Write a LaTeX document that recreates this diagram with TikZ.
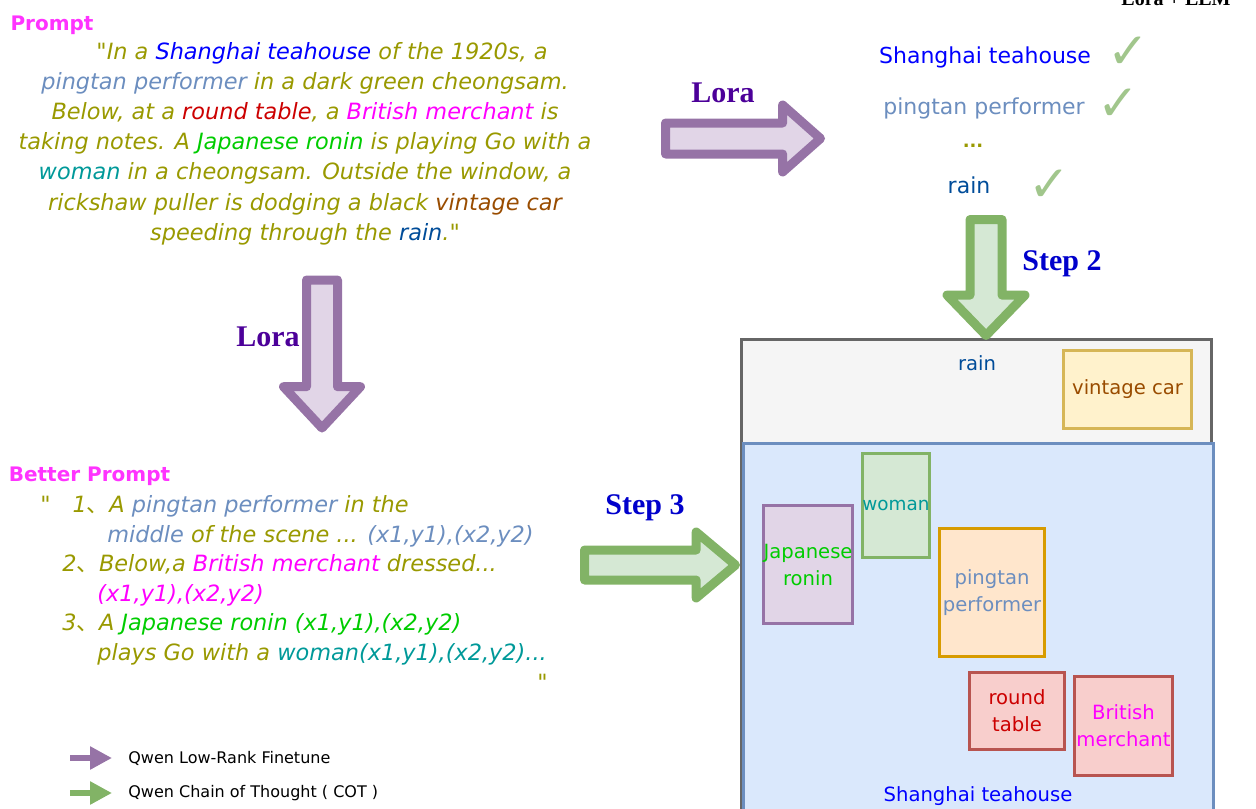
\documentclass[tikz,border=0pt]{standalone}
\usepackage{fontspec}
\setmainfont{DejaVu Sans}[Ligatures=TeXOff]
\newfontfamily\titlefont{Liberation Serif}
\newfontfamily\cjk{Noto Sans CJK SC}
\usetikzlibrary{shapes.arrows,arrows.meta,positioning}

\definecolor{olivetxt}{HTML}{999900}
\definecolor{bluetxt}{HTML}{0000FF}
\definecolor{steeltxt}{HTML}{6C8EBF}
\definecolor{redtxt}{HTML}{CC0000}
\definecolor{magtxt}{HTML}{FF00FF}
\definecolor{greentxt}{HTML}{00CC00}
\definecolor{tealtxt}{HTML}{009999}
\definecolor{browntxt}{HTML}{994C00}
\definecolor{raintxt}{HTML}{004C99}
\definecolor{headtxt}{HTML}{FF33FF}
\definecolor{steptxt}{HTML}{0000CC}
\definecolor{loratxt}{HTML}{4C0099}
\definecolor{lorafg}{HTML}{9673A6}
\definecolor{lorabg}{HTML}{E1D5E7}
\definecolor{cotfg}{HTML}{82B366}
\definecolor{cotbg}{HTML}{D5E8D4}
\definecolor{scenefg}{HTML}{666666}
\definecolor{scenebg}{HTML}{F5F5F5}
\definecolor{roomfg}{HTML}{6C8EBF}
\definecolor{roombg}{HTML}{DAE8FC}
\definecolor{carfg}{HTML}{D6B656}
\definecolor{carbg}{HTML}{FFF2CC}
\definecolor{pingfg}{HTML}{D79B00}
\definecolor{pingbg}{HTML}{FFE6CC}
\definecolor{tablefg}{HTML}{B85450}
\definecolor{tablebg}{HTML}{F8CECC}

\tikzset{
  fatarrow/.style={single arrow, draw=#1fg, fill=#1bg, line width=4.5pt, line join=round,
    inner xsep=0pt, outer sep=0pt, single arrow head indent=0pt, anchor=tip},
  arrowlbl/.style={font=\titlefont\bfseries\fontsize{15}{18}\selectfont},
  headlbl/.style={font=\bfseries\fontsize{10}{12}\selectfont, text=headtxt},
  listtxt/.style={font=\fontsize{11}{13}\selectfont},
  ticktxt/.style={font=\fontsize{25}{25}\selectfont, text=cotfg!75},
  objbox/.style={draw=#1, line width=1.5pt, align=center, font=\fontsize{9.8}{13.5}\selectfont},
  legarrow/.style={draw=#1, line width=3pt, -{Triangle[length=11pt,width=11pt]}, shorten >=8pt},
}

\begin{document}
\begin{tikzpicture}[x=0.5pt,y=-0.5pt,every node/.style={inner sep=0pt}]
\useasboundingbox (0,0) rectangle (1256,808);

\node (title) [anchor=base, font=\titlefont\bfseries\fontsize{10}{12}\selectfont] at (1176,6) {Lora + LLM};

% original prompt
\node (promptlbl) [headlbl] at (52,25) {Prompt};
\node (prompt) [font=\itshape\fontsize{11.2}{15.1}\selectfont, text=olivetxt, align=center] at (305,143.5) {%
\hspace*{17pt}"In a \textcolor{bluetxt}{Shanghai teahouse} of the 1920s, a\\
\textcolor{steeltxt}{pingtan performer} in a dark green cheongsam.\\
Below, at a \textcolor{redtxt}{round table}, a \textcolor{magtxt}{British merchant} is\\
taking notes. A \textcolor{greentxt}{Japanese ronin} is playing Go with a\\
\textcolor{tealtxt}{woman} in a cheongsam. Outside the window, a\\
rickshaw puller is dodging a black \textcolor{browntxt}{vintage car}\\
speeding through the \textcolor{raintxt}{rain}."};

% better prompt
\node (betterlbl) [headlbl] at (89.5,476) {Better Prompt};
\node (better) [font=\itshape\fontsize{11.2}{14.8}\selectfont, text=olivetxt, align=left, anchor=north west] at (40,495) {%
"\hspace{11pt}1{\cjk 、}A \textcolor{steeltxt}{pingtan performer} in the\\
\hspace*{33.5pt}\textcolor{steeltxt}{middle} of the scene ... \textcolor{steeltxt}{(x1,y1),(x2,y2)}\\
\hspace*{11pt}2{\cjk 、}Below,a \textcolor{magtxt}{British merchant} dressed...\\
\hspace*{28.5pt}\textcolor{magtxt}{(x1,y1),(x2,y2)}\\
\hspace*{11pt}3{\cjk 、}A \textcolor{greentxt}{Japanese ronin (x1,y1),(x2,y2)}\\
\hspace*{28.5pt}plays Go with a \textcolor{tealtxt}{woman(x1,y1),(x2,y2)...}\\
\hspace*{248.5pt}"};

% extracted objects
\node (obj1) [listtxt, text=bluetxt] at (985,57) {Shanghai teahouse};
\node (obj2) [listtxt, text=steeltxt] at (984,108) {pingtan performer};
\node (obj3) [font=\bfseries\fontsize{9}{10}\selectfont, text=olivetxt] at (973,146) {...};
\node (obj4) [listtxt, text=raintxt] at (969,185) {rain};
\node (tick1) [ticktxt] at (1128,53) {✓};
\node (tick2) [ticktxt] at (1118,105) {✓};
\node (tick3) [ticktxt] at (1049,186) {✓};

% layout of the scene
\node (scene) [draw=scenefg, fill=scenebg, line width=1.5pt, minimum width=235pt, minimum height=245pt] at (976.5,584.75) {};
\node (room) [draw=roomfg, fill=roombg, line width=1.5pt, minimum width=234.75pt, minimum height=193.5pt] at (978.25,636.5) {};
\node (rain) [font=\fontsize{9.8}{12}\selectfont, text=raintxt] at (977,363) {rain};
\node (car) [objbox=carfg, fill=carbg, text=browntxt, minimum width=64pt, minimum height=39pt] at (1127.5,389.5) {vintage car};
\node (woman) [objbox=cotfg, fill=cotbg, text=tealtxt, font=\fontsize{9.2}{12}\selectfont, minimum width=33.5pt, minimum height=52pt] at (896,505.5) {woman};
\node (ronin) [objbox=lorafg, fill=lorabg, text=greentxt, minimum width=44.5pt, minimum height=59pt] at (808,564.5) {Japanese\\ronin};
\node (pingtan) [objbox=pingfg, fill=pingbg, text=steeltxt, minimum width=52.5pt, minimum height=64pt] at (992,592.5) {pingtan\\performer};
\node (table) [objbox=tablefg, fill=tablebg, text=redtxt, minimum width=47.5pt, minimum height=38.5pt] at (1017,711) {round\\table};
\node (merchant) [objbox=tablefg, fill=tablebg, text=magtxt, minimum width=49pt, minimum height=49.5pt] at (1123.5,726) {British\\merchant};
\node (house) [font=\fontsize{9.8}{12}\selectfont, text=bluetxt] at (978,796) {Shanghai teahouse};

% block arrows
\node (lorah) [fatarrow=lora, minimum height=77.5pt, inner ysep=5.5pt, single arrow head extend=9pt, single arrow tip angle=83] at (820.5,138.5) {};
\node (lorav) [fatarrow=lora, rotate=-90, minimum height=74pt, inner ysep=5.5pt, single arrow head extend=11.5pt, single arrow tip angle=86] at (322,428) {};
\node (step2arr) [fatarrow=cot, rotate=-90, minimum height=58pt, inner ysep=5.75pt, single arrow head extend=11.5pt, single arrow tip angle=88] at (986,335.5) {};
\node (step3arr) [fatarrow=cot, minimum height=75.5pt, inner ysep=5.25pt, single arrow head extend=9pt, single arrow tip angle=80] at (735.5,565) {};

\node (loralblh) [arrowlbl, text=loratxt] at (723,93) {Lora};
\node (loralblv) [arrowlbl, text=loratxt] at (268,337) {Lora};
\node (step2lbl) [arrowlbl, text=steptxt] at (1062,264) {Step 2};
\node (step3lbl) [arrowlbl, text=steptxt] at (645,508) {Step 3};

% legend
\node (legA) [anchor=west, font=\fontsize{8}{10}\selectfont] at (128,758) {Qwen Low-Rank Finetune};
\node (legB) [anchor=west, font=\fontsize{8}{10}\selectfont] at (128,793) {Qwen Chain of Thought ( COT )};
\coordinate (lgA) at (70,758);
\coordinate (lgB) at (70,793);
\draw[legarrow=lorafg] (lgA) -- (legA);
\draw[legarrow=cotfg] (lgB) -- (legB);
\end{tikzpicture}
\end{document}
